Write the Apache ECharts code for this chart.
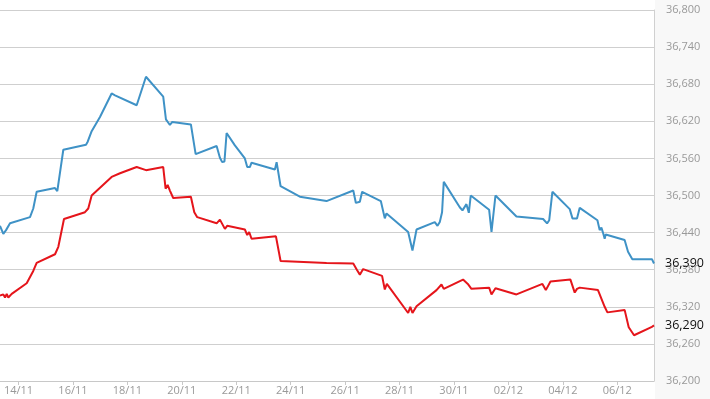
<!DOCTYPE html>
<html>
<head>
<meta charset="utf-8">
<title>chart</title>
<script src="https://cdn.jsdelivr.net/npm/echarts@6/dist/echarts.min.js"></script>
<style>
  html, body { margin: 0; padding: 0; background: #fff; }
  #chart { width: 710px; height: 399px; }
</style>
</head>
<body>
<div id="chart"></div>
<script>
// x range of the visible window
const xMin = '2015-11-13 07:40'
const xMax = '2015-12-07 08:24'

// dates that carry a tick + label
const tickDates = ['2015-11-14', '2015-11-16', '2015-11-18', '2015-11-20', '2015-11-22', '2015-11-24',
  '2015-11-26', '2015-11-28', '2015-11-30', '2015-12-02', '2015-12-04', '2015-12-06']

// upper (blue) line
const blueData = [
  ['2015-11-13 07:40', 36451], ['2015-11-13 10:36', 36438], ['2015-11-13 13:00', 36444], ['2015-11-13 16:30', 36455],
  ['2015-11-14 10:08', 36465], ['2015-11-14 13:00', 36479], ['2015-11-14 16:00', 36506], ['2015-11-15 08:10', 36512],
  ['2015-11-15 10:12', 36507], ['2015-11-15 15:30', 36574], ['2015-11-16 11:30', 36582], ['2015-11-16 13:00', 36587],
  ['2015-11-16 16:30', 36604], ['2015-11-16 23:50', 36627], ['2015-11-17 10:06', 36665], ['2015-11-17 13:06', 36662],
  ['2015-11-18 08:12', 36646], ['2015-11-18 16:24', 36692], ['2015-11-19 07:36', 36660], ['2015-11-19 10:00', 36623],
  ['2015-11-19 13:30', 36614], ['2015-11-19 15:36', 36619], ['2015-11-20 08:00', 36615], ['2015-11-20 12:12', 36567],
  ['2015-11-21 06:42', 36580], ['2015-11-21 09:36', 36561], ['2015-11-21 11:36', 36554], ['2015-11-21 13:36', 36555],
  ['2015-11-21 15:30', 36601], ['2015-11-21 22:48', 36581], ['2015-11-22 07:36', 36560], ['2015-11-22 09:42', 36546],
  ['2015-11-22 12:00', 36546], ['2015-11-22 13:30', 36553], ['2015-11-23 10:06', 36542], ['2015-11-23 11:36', 36554],
  ['2015-11-23 15:06', 36515], ['2015-11-24 08:06', 36498], ['2015-11-25 07:36', 36491], ['2015-11-26 07:12', 36508],
  ['2015-11-26 09:30', 36488], ['2015-11-26 13:00', 36490], ['2015-11-26 15:00', 36506], ['2015-11-27 07:30', 36491],
  ['2015-11-27 11:00', 36463], ['2015-11-27 12:30', 36471], ['2015-11-28 07:36', 36441], ['2015-11-28 11:24', 36411],
  ['2015-11-28 15:00', 36445], ['2015-11-29 07:06', 36457], ['2015-11-29 09:30', 36451], ['2015-11-29 11:30', 36457],
  ['2015-11-29 13:30', 36473], ['2015-11-29 15:00', 36522], ['2015-11-30 05:06', 36481], ['2015-11-30 07:30', 36476],
  ['2015-11-30 11:00', 36486], ['2015-11-30 13:06', 36472], ['2015-11-30 14:48', 36500], ['2015-12-01 07:00', 36477],
  ['2015-12-01 09:06', 36441], ['2015-12-01 12:36', 36500], ['2015-12-02 07:06', 36466], ['2015-12-03 06:36', 36462],
  ['2015-12-03 10:06', 36455], ['2015-12-03 12:00', 36460], ['2015-12-03 14:48', 36506], ['2015-12-04 06:06', 36478],
  ['2015-12-04 08:30', 36463], ['2015-12-04 12:30', 36463], ['2015-12-04 14:54', 36480], ['2015-12-05 06:30', 36460],
  ['2015-12-05 08:30', 36444], ['2015-12-05 10:00', 36448], ['2015-12-05 11:24', 36440], ['2015-12-05 12:54', 36430],
  ['2015-12-05 13:48', 36437], ['2015-12-06 06:30', 36428], ['2015-12-06 09:30', 36409], ['2015-12-06 13:18', 36397],
  ['2015-12-07 06:36', 36397], ['2015-12-07 08:24', 36390]
]

// lower (red) line
const redData = [
  ['2015-11-13 07:40', 36338], ['2015-11-13 09:12', 36335], ['2015-11-13 10:36', 36340], ['2015-11-13 12:06', 36335],
  ['2015-11-13 13:36', 36341], ['2015-11-13 15:00', 36335], ['2015-11-13 18:00', 36341], ['2015-11-14 07:12', 36358],
  ['2015-11-14 13:00', 36378], ['2015-11-14 16:00', 36391], ['2015-11-15 08:12', 36405], ['2015-11-15 11:06', 36417],
  ['2015-11-15 16:06', 36462], ['2015-11-16 10:36', 36473], ['2015-11-16 13:30', 36479], ['2015-11-16 16:30', 36500],
  ['2015-11-17 10:06', 36530], ['2015-11-17 17:30', 36536], ['2015-11-18 08:12', 36546], ['2015-11-18 16:24', 36541],
  ['2015-11-19 07:36', 36546], ['2015-11-19 09:42', 36511], ['2015-11-19 11:30', 36517], ['2015-11-19 13:30', 36508],
  ['2015-11-19 16:24', 36496], ['2015-11-20 08:00', 36498], ['2015-11-20 11:00', 36473], ['2015-11-20 13:36', 36465],
  ['2015-11-21 06:42', 36455], ['2015-11-21 09:36', 36461], ['2015-11-21 14:00', 36446], ['2015-11-21 16:00', 36451],
  ['2015-11-22 07:36', 36445], ['2015-11-22 09:42', 36436], ['2015-11-22 11:24', 36441], ['2015-11-22 13:30', 36430],
  ['2015-11-23 11:00', 36434], ['2015-11-23 15:06', 36394], ['2015-11-25 07:36', 36391], ['2015-11-26 07:12', 36390],
  ['2015-11-26 10:36', 36379], ['2015-11-26 13:00', 36372], ['2015-11-26 15:54', 36381], ['2015-11-27 08:36', 36370],
  ['2015-11-27 11:00', 36348], ['2015-11-27 12:48', 36357], ['2015-11-28 07:36', 36310], ['2015-11-28 09:30', 36320],
  ['2015-11-28 11:24', 36310], ['2015-11-28 15:00', 36321], ['2015-11-29 08:36', 36347], ['2015-11-29 10:00', 36344],
  ['2015-11-29 13:00', 36356], ['2015-11-29 15:00', 36349], ['2015-11-30 08:00', 36364], ['2015-11-30 09:30', 36362],
  ['2015-11-30 12:12', 36357], ['2015-11-30 15:24', 36349], ['2015-12-01 07:00', 36351], ['2015-12-01 09:06', 36340],
  ['2015-12-01 12:36', 36350], ['2015-12-02 07:06', 36340], ['2015-12-03 06:00', 36357], ['2015-12-03 09:00', 36347],
  ['2015-12-03 10:24', 36344], ['2015-12-03 13:06', 36361], ['2015-12-04 06:42', 36364], ['2015-12-04 10:30', 36343],
  ['2015-12-04 12:30', 36349], ['2015-12-04 14:54', 36351], ['2015-12-05 07:00', 36347], ['2015-12-05 12:54', 36320],
  ['2015-12-05 15:18', 36311], ['2015-12-06 06:30', 36315], ['2015-12-06 10:06', 36287], ['2015-12-06 14:48', 36274],
  ['2015-12-07 06:06', 36287], ['2015-12-07 08:24', 36290]
]

// y axis scale
const yMin = 36200
const yMax = 36800
const yStep = 60

// parse 'YYYY-MM-DD HH:mm' as local time
function toTime(s) {
  const p = s.split(/[- :]/).map(Number)
  return new Date(p[0], p[1] - 1, p[2], p[3] || 0, p[4] || 0).getTime()
}
function pad(n) {
  return n < 10 ? '0' + n : '' + n
}
function fmt(v) {
  return Math.round(v).toLocaleString('en-US')
}

const tickValues = tickDates.map(toTime)
const font = 'Open Sans, Liberation Sans, sans-serif'

const chart = echarts.init(document.getElementById('chart'))
chart.setOption({
  animation: false,
  backgroundColor: '#fff',
  graphic: [{
    type: 'rect',
    z: -10,
    silent: true,
    shape: { x: 655, y: 0, width: 55, height: 399 },
    style: { fill: '#f8f8f8' }
  }],
  grid: {
    left: 0,
    right: 56,
    top: 10,
    bottom: 18,
    containLabel: false
  },
  // x kept as a plain number axis (ms) so ticks can sit on chosen dates
  xAxis: {
    type: 'value',
    min: toTime(xMin),
    max: toTime(xMax),
    scale: true,
    axisLine: { show: true, onZero: false, lineStyle: { color: '#c8c8c8', width: 1 } },
    axisTick: { show: true, length: 4, customValues: tickValues, lineStyle: { color: '#c8c8c8' } },
    splitLine: { show: false },
    axisLabel: {
      customValues: tickValues,
      color: '#999',
      fontSize: 11,
      fontFamily: font,
      margin: 4,
      formatter: function (v) {
        const d = new Date(v)
        return pad(d.getDate()) + '/' + pad(d.getMonth() + 1)
      }
    }
  },
  yAxis: {
    type: 'value',
    position: 'right',
    min: yMin,
    max: yMax,
    interval: yStep,
    axisLine: { show: true, lineStyle: { color: '#d0d0d0', width: 1 } },
    axisTick: { show: false },
    splitLine: { show: true, lineStyle: { color: '#cfcfcf', width: 1 } },
    axisLabel: {
      color: '#999',
      fontSize: 11,
      fontFamily: font,
      margin: 12,
      formatter: fmt
    }
  },
  series: [
    {
      name: 'upper',
      type: 'line',
      data: blueData.map(d => [toTime(d[0]), d[1]]),
      showSymbol: false,
      lineStyle: { color: '#3f92c6', width: 2 },
      itemStyle: { color: '#3f92c6' },
      endLabel: {
        show: true,
        distance: 11,
        color: '#111',
        fontSize: 12.5,
        fontFamily: font,
        formatter: p => fmt(p.value[1])
      }
    },
    {
      name: 'lower',
      type: 'line',
      data: redData.map(d => [toTime(d[0]), d[1]]),
      showSymbol: false,
      lineStyle: { color: '#e5151b', width: 2 },
      itemStyle: { color: '#e5151b' },
      endLabel: {
        show: true,
        distance: 11,
        color: '#111',
        fontSize: 12.5,
        fontFamily: font,
        formatter: p => fmt(p.value[1])
      }
    }
  ]
})
</script>
</body>
</html>
